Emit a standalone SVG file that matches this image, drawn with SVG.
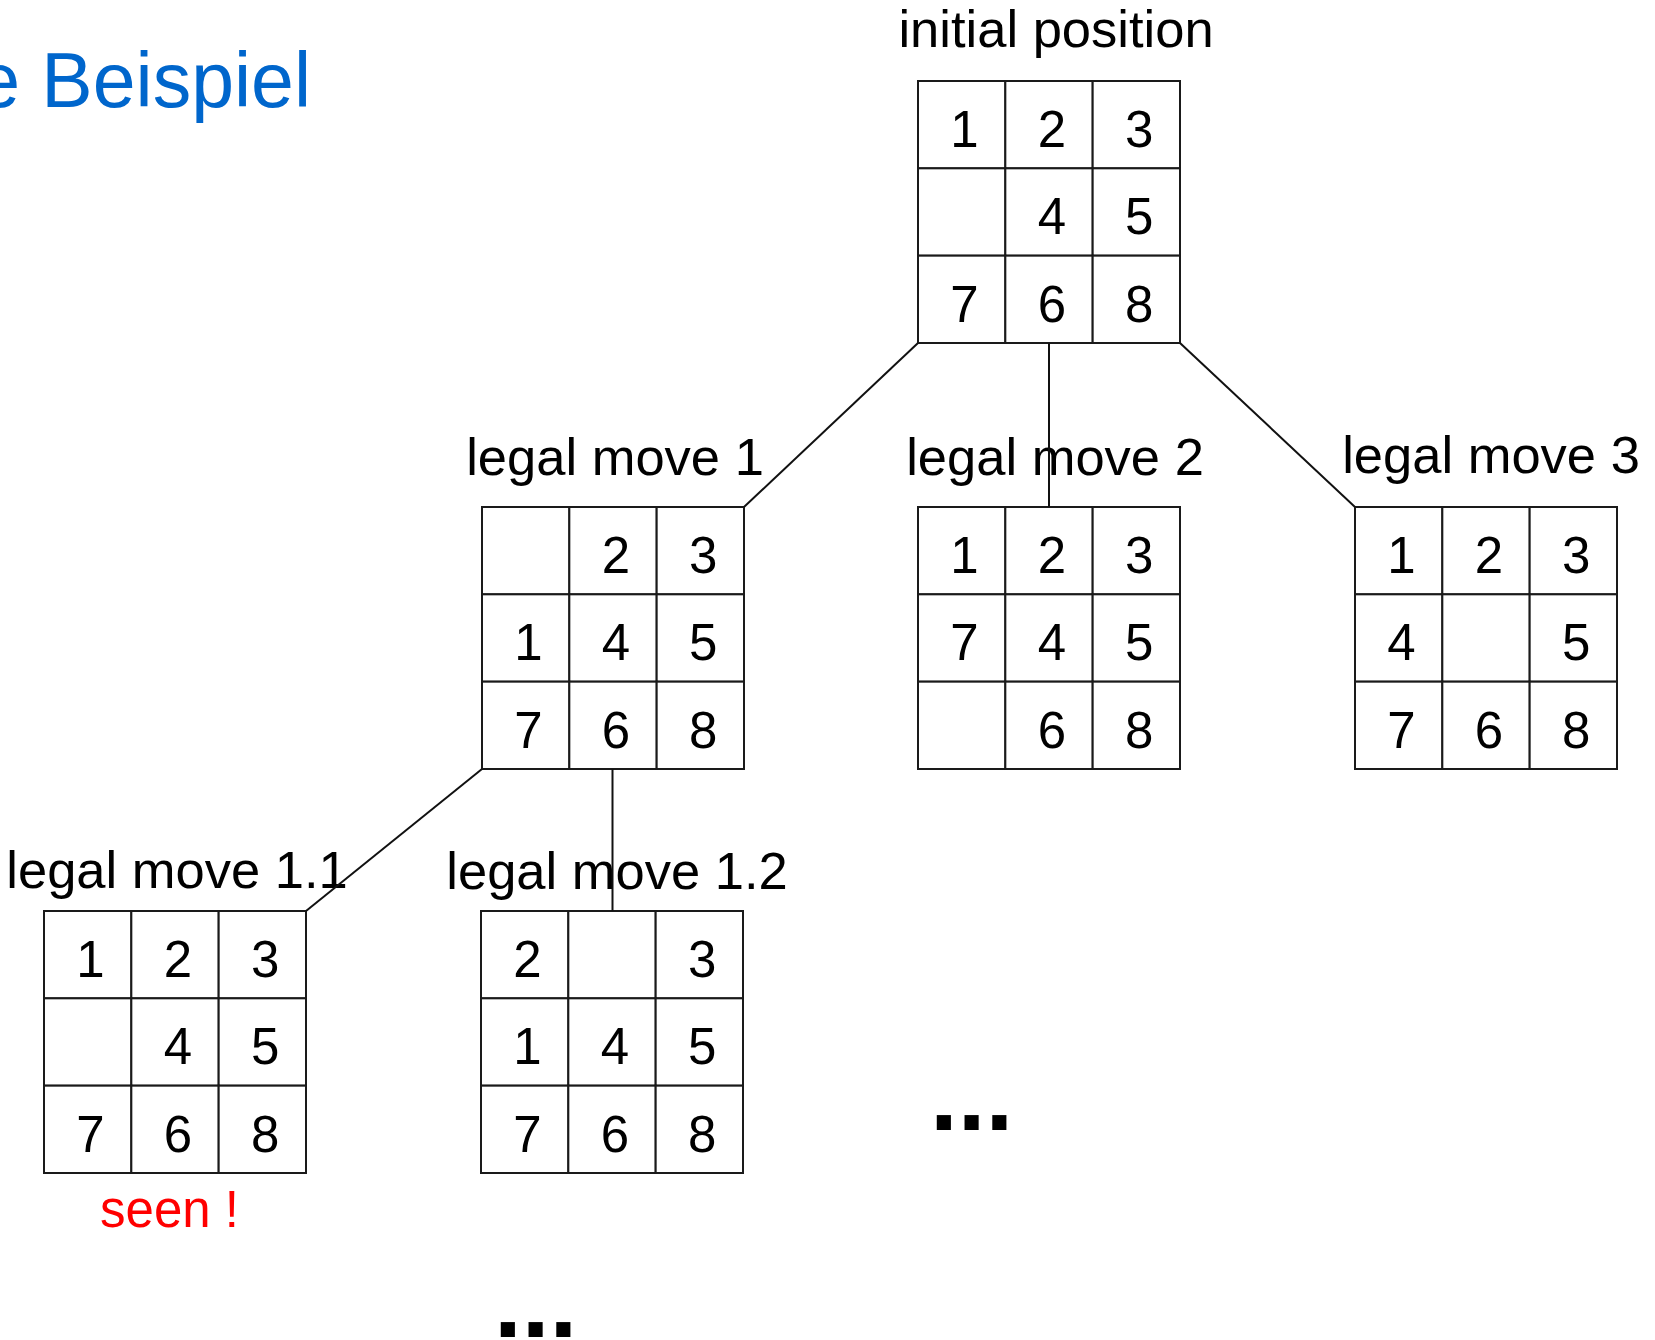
<svg xmlns="http://www.w3.org/2000/svg" width="1655" height="1340" viewBox="0 0 1655 1340">
<style>
.cell{fill:#fff;stroke:#1a1a1a;stroke-width:2}
.num{font-family:"Liberation Sans",Arial,sans-serif;font-size:51px;fill:#000;text-anchor:middle}
.lbl{font-family:"Liberation Sans",Arial,sans-serif;font-size:52.5px;fill:#000;text-anchor:middle}
.edge{stroke:#111;stroke-width:2;fill:none}
.dots{font-family:"Liberation Sans",Arial,sans-serif;font-size:100px;font-weight:bold;fill:#000}
</style>
<defs>
<g id="grid">
<rect class="cell" x="0" y="0" width="87.33" height="87.33"/>
<rect class="cell" x="87.33" y="0" width="87.33" height="87.33"/>
<rect class="cell" x="174.67" y="0" width="87.33" height="87.33"/>
<rect class="cell" x="0" y="87.33" width="87.33" height="87.33"/>
<rect class="cell" x="87.33" y="87.33" width="87.33" height="87.33"/>
<rect class="cell" x="174.67" y="87.33" width="87.33" height="87.33"/>
<rect class="cell" x="0" y="174.67" width="87.33" height="87.33"/>
<rect class="cell" x="87.33" y="174.67" width="87.33" height="87.33"/>
<rect class="cell" x="174.67" y="174.67" width="87.33" height="87.33"/>
</g>
</defs>
<rect width="1655" height="1340" fill="#fff"/>
<text x="311" y="107" font-family="Liberation Sans,Arial,sans-serif" font-size="77" fill="#0066CC" text-anchor="end">e Beispiel</text>

<g id="initial">
<text class="lbl" x="1056" y="47">initial position</text>
<g transform="translate(918,81)">
<use href="#grid"/>
<text class="num" x="46.5" y="66">1</text><text class="num" x="134" y="66">2</text><text class="num" x="221.3" y="66">3</text>
<text class="num" x="134" y="153.3">4</text><text class="num" x="221.3" y="153.3">5</text>
<text class="num" x="46.5" y="240.7">7</text><text class="num" x="134" y="240.7">6</text><text class="num" x="221.3" y="240.7">8</text>
</g>
</g>

<g id="move1">
<text class="lbl" x="615" y="475">legal move 1</text>
<g transform="translate(482,507)">
<use href="#grid"/>
<text class="num" x="134" y="66">2</text><text class="num" x="221.3" y="66">3</text>
<text class="num" x="46.5" y="153.3">1</text><text class="num" x="134" y="153.3">4</text><text class="num" x="221.3" y="153.3">5</text>
<text class="num" x="46.5" y="240.7">7</text><text class="num" x="134" y="240.7">6</text><text class="num" x="221.3" y="240.7">8</text>
</g>
</g>

<g id="move2">
<text class="lbl" x="1055" y="475">legal move 2</text>
<g transform="translate(918,507)">
<use href="#grid"/>
<text class="num" x="46.5" y="66">1</text><text class="num" x="134" y="66">2</text><text class="num" x="221.3" y="66">3</text>
<text class="num" x="46.5" y="153.3">7</text><text class="num" x="134" y="153.3">4</text><text class="num" x="221.3" y="153.3">5</text>
<text class="num" x="134" y="240.7">6</text><text class="num" x="221.3" y="240.7">8</text>
</g>
</g>

<g id="move3">
<text class="lbl" x="1491" y="473">legal move 3</text>
<g transform="translate(1355,507)">
<use href="#grid"/>
<text class="num" x="46.5" y="66">1</text><text class="num" x="134" y="66">2</text><text class="num" x="221.3" y="66">3</text>
<text class="num" x="46.5" y="153.3">4</text><text class="num" x="221.3" y="153.3">5</text>
<text class="num" x="46.5" y="240.7">7</text><text class="num" x="134" y="240.7">6</text><text class="num" x="221.3" y="240.7">8</text>
</g>
</g>

<g id="move11">
<text class="lbl" x="177" y="888">legal move 1.1</text>
<g transform="translate(44,911)">
<use href="#grid"/>
<text class="num" x="46.5" y="66">1</text><text class="num" x="134" y="66">2</text><text class="num" x="221.3" y="66">3</text>
<text class="num" x="134" y="153.3">4</text><text class="num" x="221.3" y="153.3">5</text>
<text class="num" x="46.5" y="240.7">7</text><text class="num" x="134" y="240.7">6</text><text class="num" x="221.3" y="240.7">8</text>
</g>
<text x="169.5" y="1227" font-family="Liberation Sans,Arial,sans-serif" font-size="51" fill="#FF0000" text-anchor="middle">seen !</text>
</g>

<g id="move12">
<text class="lbl" x="617" y="889">legal move 1.2</text>
<g transform="translate(481,911)">
<use href="#grid"/>
<text class="num" x="46.5" y="66">2</text><text class="num" x="221.3" y="66">3</text>
<text class="num" x="46.5" y="153.3">1</text><text class="num" x="134" y="153.3">4</text><text class="num" x="221.3" y="153.3">5</text>
<text class="num" x="46.5" y="240.7">7</text><text class="num" x="134" y="240.7">6</text><text class="num" x="221.3" y="240.7">8</text>
</g>
</g>

<text class="dots" x="930" y="1130">...</text>
<text class="dots" x="494" y="1337">...</text>

<g id="connectors">
<line class="edge" x1="918" y1="343" x2="744" y2="507"/>
<line class="edge" x1="1049" y1="343" x2="1049" y2="507"/>
<line class="edge" x1="1180" y1="343" x2="1355" y2="507"/>
<line class="edge" x1="482" y1="769" x2="306" y2="911"/>
<line class="edge" x1="612.5" y1="769" x2="612.5" y2="911"/>
</g>
</svg>
